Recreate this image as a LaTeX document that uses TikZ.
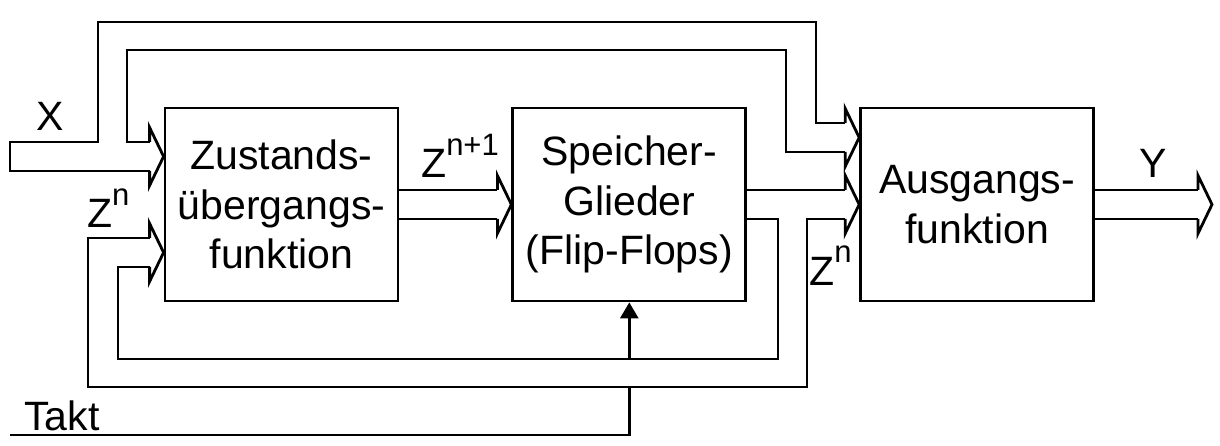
\documentclass[tikz,border=0pt]{standalone}
\usepackage{fontspec}
\setmainfont{Liberation Sans}
\usetikzlibrary{arrows.meta, positioning, calc}
\newcommand{\hoch}[1]{\raisebox{0.55em}{\fontsize{31}{31}\selectfont #1}}

\begin{document}
\begin{tikzpicture}[
  x=1pt, y=-1pt,
  wire/.style={line width=2.8pt, line join=miter},
  block/.style={draw, line width=2.8pt, minimum width=233pt, minimum height=193pt,
                align=center, font=\fontsize{41}{49.5}\selectfont},
  lbl/.style={font=\fontsize{41}{49.5}\selectfont, inner sep=0pt},
  clk/.style={line width=2.8pt, -{Triangle[length=16pt,width=18pt]}},
  bushead/.pic={\draw[wire] (-14,-14.5) -- (-14,-29) -- (0,0) -- (-14,29) -- (-14,14.5);}
]
\useasboundingbox (0,0) rectangle (1220,446);

\node[block] (zf) at (281.5,204.5) {Zustands-\\übergangs-\\funktion};
\node[block, right=112pt of zf] (sp) {Speicher-\\Glieder\\(Flip-Flops)};
\node[block, right=112pt of sp] (af) {Ausgangs-\\funktion};

\coordinate (zin1) at ($(zf.west)+(0,-48)$);
\coordinate (zin2) at ($(zf.west)+(0,48)$);
\coordinate (ain1) at ($(af.west)+(0,-67)$);
\coordinate (ain2) at (af.west);
\coordinate (yout) at ($(af.east)+(117,0)$);
\coordinate (takt) at (10,435);

\foreach \t in {zin1,zin2,sp.west,ain1,ain2,yout}
  \pic at (\t) {bushead};

% X
\draw[wire] ($(ain1)+(-14,-14.5)$) -| (816,22) -| (98,142) -- (10,142) -- (10,171)
  -- ($(zin1)+(-14,14.5)$);
\draw[wire] ($(zin1)+(-14,-14.5)$) -| (127,50) -| (786,152) -- ($(ain1)+(-14,14.5)$);

% Z^{n+1}
\draw[wire] ($(zf.east)+(0,-14.5)$) -- ($(sp.west)+(-14,-14.5)$);
\draw[wire] ($(zf.east)+(0,14.5)$) -- ($(sp.west)+(-14,14.5)$);

% Z^n
\draw[wire] ($(sp.east)+(0,-14.5)$) -- ($(ain2)+(-14,-14.5)$);
\draw[wire] ($(sp.east)+(0,14.5)$) -| (778,359) -| (118,267) -- ($(zin2)+(-14,14.5)$);
\draw[wire] ($(ain2)+(-14,14.5)$) -| (807,387) -| (88,238) -- ($(zin2)+(-14,-14.5)$);

% Y
\draw[wire] ($(af.east)+(0,-14.5)$) -- ($(yout)+(-14,-14.5)$);
\draw[wire] ($(af.east)+(0,14.5)$) -- ($(yout)+(-14,14.5)$);

% Takt
\draw[wire] (takt) -| ($(sp.south)+(0,85)$);
\draw[clk] ($(sp.south)+(0,57)$) -- (sp.south);

\node[lbl] (xlab) at (50,116) {X};
\node[lbl, anchor=base west] (zlab1) at (87,228) {Z\hoch{n}};
\node[lbl, anchor=base west] (zlab2) at (421,178) {Z\hoch{n+1}};
\node[lbl, anchor=base west] (zlab3) at (809,285) {Z\hoch{n}};
\node[lbl] (ylab) at (1153,163) {Y};
\node[lbl, anchor=base west] (taktlab) at (24,430) {Takt};
\end{tikzpicture}
\end{document}
